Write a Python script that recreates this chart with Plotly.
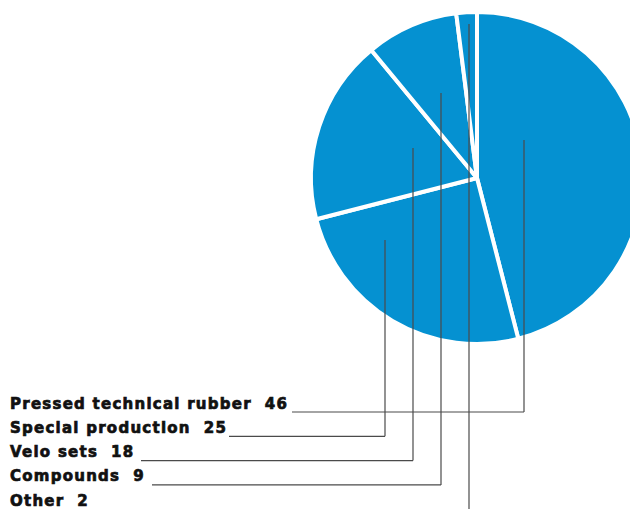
import plotly.graph_objects as go

# Sales structure, %
categories = ["Pressed technical rubber", "Special production", "Velo sets", "Compounds", "Other"]
shares = [46, 25, 18, 9, 2]

BLUE = "#0591d1"
LINE = "#4a4a4a"

W, H = 660, 509  # canvas is a bit wider than the window so the pie runs off the right edge


def px(x):
    return x / W


def py(y):
    return 1 - y / H


# pie placement in pixels (center and radius incl. the white outline)
CX, CY, R = 477, 178, 166

fig = go.Figure(
    go.Pie(
        labels=categories,
        values=shares,
        sort=False,
        direction="clockwise",
        rotation=0,
        textinfo="none",
        hoverinfo="label+value",
        marker=dict(colors=[BLUE] * len(shares), line=dict(color="white", width=4)),
        domain=dict(x=[px(CX - R), px(CX + R)], y=[py(CY + R), py(CY - R)]),
        showlegend=False,
    )
)

# leader lines: x of the vertical, y where it starts inside the pie,
# x where the horizontal run begins next to the label
leaders = [(524, 140, 292), (385, 240, 229), (413, 148, 141), (441, 93, 152), (469, 24, None)]
ROW0, ROW_STEP = 403.5, 24.3
LABEL_X = 8

shapes = []
annotations = []
for i, (cat, val) in enumerate(zip(categories, shares)):
    row_y = ROW0 + i * ROW_STEP
    annotations.append(
        dict(
            text=f"<b>{cat}\u00a0 {val}</b>",
            x=px(LABEL_X), y=py(row_y),
            xref="paper", yref="paper",
            xanchor="left", yanchor="middle", align="left",
            showarrow=False,
            font=dict(family="DejaVu Sans", size=15, color="#111111"),
        )
    )
    lx, ly, hx = leaders[i]
    if hx is not None:
        hy = row_y + 8.5
        shapes.append(dict(type="line", xref="paper", yref="paper",
                           x0=px(lx), y0=py(ly), x1=px(lx), y1=py(hy),
                           line=dict(color=LINE, width=1.2)))
        shapes.append(dict(type="line", xref="paper", yref="paper",
                           x0=px(lx), y0=py(hy), x1=px(hx), y1=py(hy),
                           line=dict(color=LINE, width=1.2)))
    else:
        shapes.append(dict(type="line", xref="paper", yref="paper",
                           x0=px(lx), y0=py(ly), x1=px(lx), y1=py(H + 1),
                           line=dict(color=LINE, width=1.2)))

fig.update_layout(
    width=W, height=H,
    margin=dict(l=0, r=0, t=0, b=0),
    paper_bgcolor="white",
    plot_bgcolor="white",
    shapes=shapes,
    annotations=annotations,
)

# heavier, wider label lettering and no scrollbars
post = (
    "document.documentElement.style.overflow='hidden';"
    "document.body.style.overflow='hidden';"
    "var s=document.createElement('style');"
    "s.textContent='.annotation-text{letter-spacing:1.25px;stroke:#111111;stroke-width:0.7px;}';"
    "document.head.appendChild(s);"
)
fig.write_html("out.html", post_script=post)
